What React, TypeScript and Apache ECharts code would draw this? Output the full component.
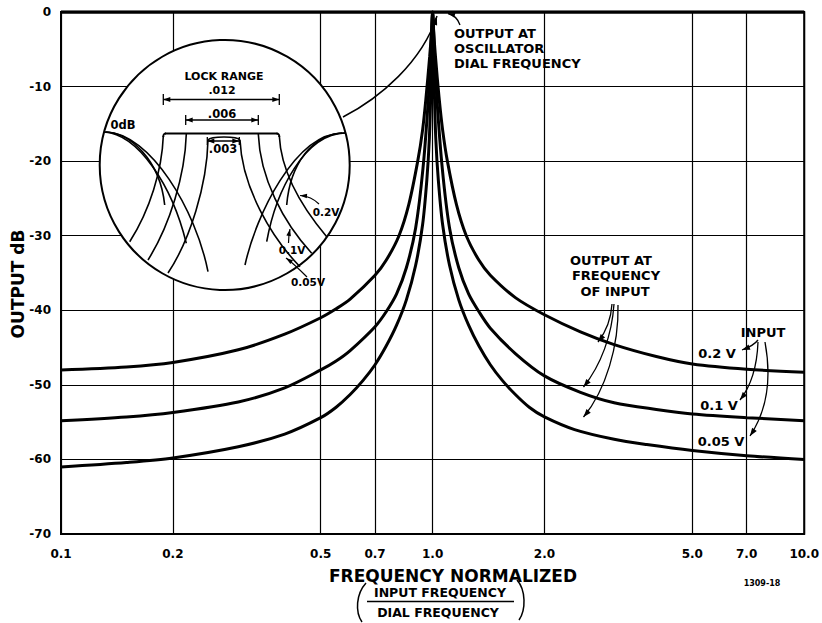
import React, { useEffect, useRef } from "react";
import * as echarts from "echarts";

// ---------- data ----------
const xTickValues = [0.1, 0.2, 0.5, 0.7, 1.0, 2.0, 5.0, 7.0, 10.0];
const xTickLabels = ["0.1", "0.2", "0.5", "0.7", "1.0", "2.0", "5.0", "7.0", "10.0"];

const dialFreq = [0.1, 10];
const dialDb = [0, 0];

// input 0.2 V
const freq02 = [0.1, 0.15, 0.2, 0.3, 0.4, 0.5, 0.55, 0.6, 0.7, 0.75, 0.812, 0.863, 0.912, 0.94, 0.96, 0.982, 0.994, 1.0,
  1.006, 1.018, 1.041, 1.064, 1.096, 1.159, 1.232, 1.333, 1.43, 1.67, 2.0, 2.5, 3.08, 4, 5, 7, 10];
const db02 = [-48.0, -47.6, -47.0, -45.3, -43.2, -41.0, -39.8, -38.5, -35.3, -33.3, -30.0, -25.8, -20.0, -15.8, -11.5, -6.0, -2.5, 0,
  -2.5, -6.0, -11.5, -15.8, -20.0, -25.8, -30.0, -33.3, -35.3, -38.3, -40.6, -42.9, -44.6, -46.2, -47.2, -47.9, -48.3];

// input 0.1 V
const freq01 = [0.1, 0.15, 0.2, 0.3, 0.4, 0.5, 0.55, 0.6, 0.7, 0.75, 0.8, 0.85, 0.9, 0.942, 0.976, 0.99, 1.0,
  1.01, 1.025, 1.062, 1.111, 1.176, 1.25, 1.333, 1.43, 1.67, 2.0, 2.5, 3.08, 4, 5, 7, 10];
const db01 = [-54.8, -54.3, -53.7, -52.3, -50.4, -48.0, -46.8, -45.4, -42.2, -40.2, -37.8, -34.3, -29.0, -21.0, -11.0, -4.5, 0,
  -4.5, -11.0, -21.0, -29.0, -34.3, -37.8, -40.2, -42.4, -45.8, -48.8, -51.0, -52.4, -53.3, -53.9, -54.4, -54.8];

// input 0.05 V
const freq005 = [0.1, 0.15, 0.2, 0.3, 0.4, 0.5, 0.55, 0.6, 0.65, 0.7, 0.75, 0.8, 0.85, 0.9, 0.94, 0.965, 0.98, 0.99, 0.997, 1.0,
  1.003, 1.01, 1.02, 1.036, 1.064, 1.111, 1.176, 1.25, 1.333, 1.43, 1.54, 1.67, 1.82, 2.0, 2.41, 3.08, 3.77, 5, 7, 10];
const db005 = [-61.0, -60.4, -59.8, -58.3, -56.6, -54.4, -53.0, -51.3, -49.4, -47.3, -44.8, -42.0, -38.6, -34.0, -28.5, -22.5, -17.0, -10.0, -4.0, 0,
  -4.0, -10.0, -17.0, -22.5, -28.5, -34.0, -38.6, -42.0, -44.8, -47.3, -49.4, -51.3, -53.0, -54.3, -56.0, -57.3, -58.0, -58.8, -59.5, -60.0];

const FONT = "DejaVu Sans";
const lg = (v: number) => Number(Math.log10(v).toFixed(6));
const toPts = (f: number[], d: number[]) => f.map((v, i) => [lg(v), d[i]]);

// ---------- graphic helpers ----------
const Z = 100;
const txt = (x: number, y: number, s: string, size = 13, align = "center", weight = "bold", extra: any = {}) => ({
  type: "text", z: Z + 2, x, y, silent: true,
  style: { text: s, fill: "#000", fontSize: size, fontFamily: FONT, fontWeight: weight, align, verticalAlign: "middle" },
  ...extra,
});
const seg = (x1: number, y1: number, x2: number, y2: number, w = 1.3) => ({
  type: "line", z: Z + 1, silent: true, shape: { x1, y1, x2, y2 }, style: { stroke: "#000", lineWidth: w },
});
const bez = (p: number[], w = 1.5) => ({
  type: "bezierCurve", z: Z + 1, silent: true,
  shape: { x1: p[0], y1: p[1], cpx1: p[2], cpy1: p[3], cpx2: p[4], cpy2: p[5], x2: p[6], y2: p[7] },
  style: { stroke: "#000", lineWidth: w, fill: "none" },
});
const head = (tx: number, ty: number, fx: number, fy: number, len = 8, half = 2.8) => {
  const dx = tx - fx, dy = ty - fy;
  const d = Math.hypot(dx, dy) || 1;
  const ux = dx / d, uy = dy / d;
  const bx = tx - ux * len, by = ty - uy * len;
  return {
    type: "polygon", z: Z + 2, silent: true,
    shape: { points: [[tx, ty], [bx - uy * half, by + ux * half], [bx + uy * half, by - ux * half]] },
    style: { fill: "#000" },
  };
};
const arrow = (p: number[], w = 1.3, len = 8, half = 2.8) => [bez(p, w), head(p[6], p[7], p[4], p[5], len, half)];

function buildGraphics() {
  const g: any[] = [];
  // inset circle
  g.push({ type: "circle", z: Z, silent: true, shape: { cx: 224.7, cy: 165, r: 125 }, style: { fill: "#fff", stroke: "#000", lineWidth: 2 } });
  // flat top of lock range
  g.push(seg(165, 133.5, 277.5, 133.5, 2));
  g.push(bez([163.3, 137, 163.3, 134.5, 163.5, 133.5, 166, 133.5], 2));
  g.push(bez([279.3, 137, 279.3, 134.5, 279, 133.5, 276.5, 133.5], 2));
  // 0.05V hump
  g.push(bez([208, 140, 211, 136, 237, 136, 240, 140], 1.6));
  // edge curves left
  g.push(bez([163.3, 136, 162, 170, 150, 210, 129.7, 241.7], 1.6));
  g.push(bez([186.3, 134, 185, 175, 170, 225, 148, 260], 1.6));
  g.push(bez([208, 140, 207, 185, 190, 240, 168, 273], 1.6));
  // edge curves right
  g.push(bez([279.3, 136, 281, 170, 300, 205, 326.7, 236.7], 1.6));
  g.push(bez([258.3, 134, 260, 178, 283, 222, 311.7, 253.3], 1.6));
  g.push(bez([240, 140, 242, 188, 272, 238, 300, 266.7], 1.6));
  // 0 dB clusters left
  g.push(bez([104, 132, 130, 132, 160, 160, 164.7, 205], 1.6));
  g.push(bez([104, 132, 138, 134, 172, 185, 186.3, 243.3], 1.6));
  g.push(bez([106, 132, 150, 133, 196, 210, 208, 271.7], 1.6));
  // 0 dB clusters right
  g.push(bez([345, 133, 312, 133, 290, 165, 286.7, 205], 1.6));
  g.push(bez([345, 133, 305, 134, 276, 190, 266.7, 241.7], 1.6));
  g.push(bez([342, 133, 295, 134, 256, 215, 245, 265], 1.6));
  // dimension lines
  const dims = [
    [163.3, 279.3, 99.5, 5.5],
    [185.7, 258.3, 120, 5],
    [207.3, 239.3, 141, 4],
  ];
  dims.forEach(([a, b, y, t]) => {
    g.push(seg(a, y, b, y, 1.3));
    g.push(seg(a, y - t, a, y + t, 1.3));
    g.push(seg(b, y - t, b, y + t, 1.3));
    g.push(head(a, y, a + 10, y, 7, 2.4));
    g.push(head(b, y, b - 10, y, 7, 2.4));
  });
  g.push(txt(224, 76.5, "LOCK RANGE", 11));
  g.push(txt(222, 90.5, ".012", 11));
  g.push(txt(222, 113.5, ".006", 11.5));
  g.push(txt(223, 149, ".003", 11.5));
  g.push(txt(123, 125, "0dB", 11.5));
  g.push(txt(326, 212, "0.2V", 10.5));
  g.push(txt(292, 250, "0.1V", 10.5));
  g.push(txt(308, 282, "0.05V", 10.5));
  g.push(...arrow([319, 204, 314, 199, 307, 196, 300, 195.5], 1.2, 7, 2.3));
  g.push(...arrow([288.5, 243, 288.5, 238, 289, 234, 290, 229], 1.2, 7, 2.3));
  g.push(...arrow([307, 277, 300, 270, 293, 263, 286, 258], 1.2, 7, 2.3));
  // leader from inset to peak
  g.push(...arrow([343, 117, 380, 98, 422, 62, 437, 16], 1.5, 9, 3));
  // oscillator annotation
  g.push(txt(454, 33, "OUTPUT AT", 13, "left"));
  g.push(txt(454, 48, "OSCILLATOR", 13, "left"));
  g.push(txt(454, 63, "DIAL FREQUENCY", 13, "left"));
  g.push(...arrow([460, 25, 458, 19, 454, 15, 448, 13.5], 1.3, 7, 2.3));
  // output at frequency of input
  g.push(txt(611, 260, "OUTPUT AT", 13));
  g.push(txt(616, 275, "FREQUENCY", 13));
  g.push(txt(615, 291, "OF INPUT", 13));
  g.push(...arrow([612, 304, 611, 320, 605, 333, 598, 342]));
  g.push(...arrow([614, 304, 612, 335, 601, 365, 583.5, 387]));
  g.push(...arrow([618, 305, 619, 345, 606, 390, 583.5, 417]));
  // input legend
  g.push(txt(763, 332, "INPUT", 13));
  g.push(txt(717, 353, "0.2 V", 13));
  g.push(txt(719, 405, "0.1 V", 13));
  g.push(txt(721, 441, "0.05 V", 13));
  g.push(...arrow([758, 340, 755, 344, 750, 347, 742, 350]));
  g.push(...arrow([758, 342, 757, 368, 751, 386, 740, 400]));
  g.push(...arrow([765, 342, 772, 380, 766, 412, 750, 436]));
  // axis titles
  g.push(txt(18, 284, "OUTPUT dB", 17, "center", "bold", { rotation: Math.PI / 2 }));
  g.push(txt(453, 576, "FREQUENCY NORMALIZED", 17, "center", "bold"));
  g.push(txt(440, 592, "INPUT FREQUENCY", 12.5));
  g.push(seg(367, 601.5, 514, 601.5, 1.4));
  g.push(txt(438, 612, "DIAL FREQUENCY", 12.5));
  g.push(bez([366, 583, 356, 594, 355, 612, 362, 622], 1.5));
  g.push(bez([517, 580, 526, 590, 526, 610, 519, 620], 1.5));
  g.push(txt(762, 583, "1309-18", 8, "center", "bold"));
  return g;
}

export default function App() {
  const ref = useRef<HTMLDivElement>(null);
  useEffect(() => {
    document.body.style.margin = "0";
    if (!ref.current) return;
    const chart = echarts.init(ref.current, undefined, { renderer: "svg" });
    const tickLog = xTickValues.map(lg);
    const lineSeries = (name: string, data: number[][], w = 3) => ({
      name, type: "line", data, showSymbol: false, symbol: "none", smooth: 0.3,
      lineStyle: { color: "#000", width: w }, silent: true, z: 5,
    });
    chart.setOption({
      animation: false,
      backgroundColor: "#fff",
      grid: { left: 61, right: 10, top: 12, bottom: 89, show: true, borderColor: "#000", borderWidth: 2, containLabel: false },
      xAxis: {
        type: "value", min: -1, max: 1,
        axisLine: { show: false },
        axisTick: { show: false, customValues: tickLog },
        axisLabel: {
          customValues: tickLog,
          showMinLabel: true, showMaxLabel: true,
          formatter: (v: number) => {
            const i = tickLog.findIndex((t) => Math.abs(t - v) < 1e-4);
            return i >= 0 ? xTickLabels[i] : "";
          },
          color: "#000", fontSize: 12, fontWeight: "bold", fontFamily: FONT, margin: 14,
        },
        splitLine: { show: true, lineStyle: { color: "#000", width: 1.2 } },
      },
      yAxis: {
        type: "value", min: -70, max: 0, interval: 10,
        axisLine: { show: false }, axisTick: { show: false },
        axisLabel: { color: "#000", fontSize: 12, fontWeight: "bold", fontFamily: FONT, margin: 10 },
        splitLine: { show: true, lineStyle: { color: "#000", width: 1.2 } },
      },
      series: [
        lineSeries("Dial", toPts(dialFreq, dialDb), 3.5),
        lineSeries("0.2 V", toPts(freq02, db02)),
        lineSeries("0.1 V", toPts(freq01, db01)),
        lineSeries("0.05 V", toPts(freq005, db005)),
      ],
      graphic: buildGraphics(),
    });
    return () => chart.dispose();
  }, []);
  return <div ref={ref} style={{ width: 822, height: 623 }} />;
}
